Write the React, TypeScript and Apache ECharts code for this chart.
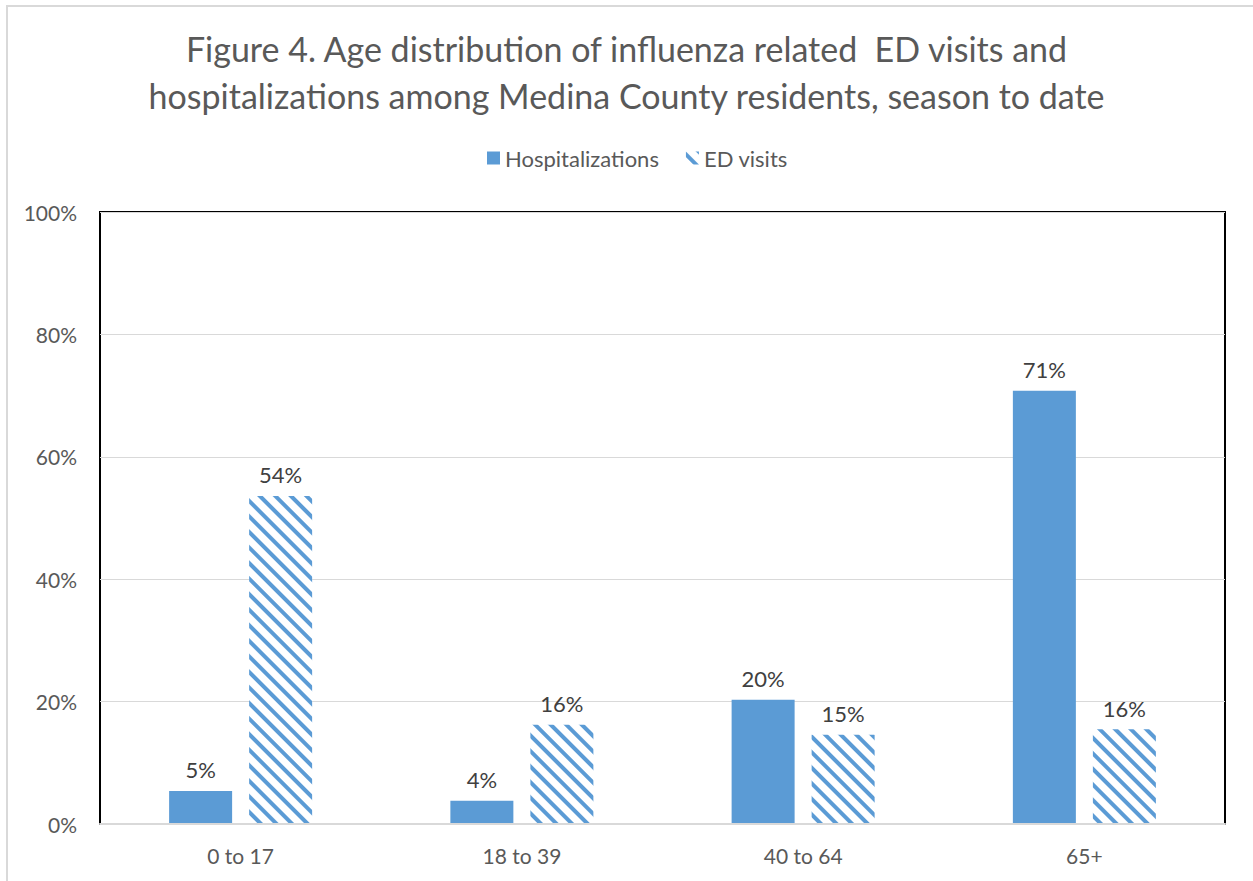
import React, { useEffect, useRef } from "react";
import * as echarts from "echarts";

const categories = ["0 to 17", "18 to 39", "40 to 64", "65+"];
const hospitalizations = [5.4, 3.8, 20.3, 70.8];
const edVisits = [53.6, 16.2, 14.6, 15.5];
const yTicks = [0, 20, 40, 60, 80, 100];

const FONT = "Lato, 'Open Sans', sans-serif";
const BLUE = "#5B9BD5";

export default function App() {
  const ref = useRef<HTMLDivElement>(null);
  useEffect(() => {
    if (!ref.current) return;
    const chart = echarts.init(ref.current, undefined, { renderer: "svg" });
    const labelCfg = {
      show: true,
      position: "top" as const,
      distance: 10,
      color: "#404040",
      fontSize: 22,
      fontFamily: FONT,
      formatter: (p: any) => Math.round(p.value) + "%",
    };
    chart.setOption({
      animation: false,
      backgroundColor: "#fff",
      textStyle: { fontFamily: FONT },
      title: {
        text: "Figure 4. Age distribution of influenza related  ED visits and\nhospitalizations among Medina County residents, season to date",
        left: "center",
        top: 20,
        textStyle: {
          fontFamily: FONT,
          fontSize: 34,
          fontWeight: "normal",
          color: "#595959",
          lineHeight: 47,
        },
      },
      legend: {
        top: 142,
        left: 482,
        itemWidth: 13,
        itemHeight: 13,
        itemGap: 27,
        icon: "rect",
        textStyle: { fontFamily: FONT, fontSize: 22, color: "#595959" },
        data: ["Hospitalizations", "ED visits"],
      },
      graphic: [
        {
          type: "rect",
          shape: { x: 7, y: 6, width: 1260, height: 900 },
          style: { fill: "none", stroke: "#D9D9D9", lineWidth: 2 },
          silent: true,
          z: -10,
        },
      ],
      grid: {
        left: 100,
        right: 28,
        top: 212,
        bottom: 57,
        show: true,
        borderColor: "#000",
        borderWidth: 2,
        backgroundColor: "transparent",
      },
      xAxis: {
        type: "category",
        data: categories,
        axisTick: { show: false },
        axisLine: { show: true, lineStyle: { color: "#D9D9D9", width: 2 } },
        axisLabel: { fontFamily: FONT, fontSize: 21, color: "#595959", margin: 21 },
        z: 10,
      },
      yAxis: {
        type: "value",
        min: 0,
        max: 100,
        interval: 20,
        axisLine: { show: false },
        axisTick: { show: false },
        splitLine: { lineStyle: { color: "#D9D9D9", width: 1 } },
        axisLabel: {
          fontFamily: FONT,
          fontSize: 21,
          color: "#595959",
          margin: 23,
          formatter: (v: number) => (yTicks.includes(v) ? v + "%" : ""),
        },
      },
      series: [
        {
          name: "Hospitalizations",
          type: "bar",
          data: hospitalizations,
          barWidth: 63,
          barGap: "27%",
          itemStyle: { color: BLUE },
          label: labelCfg,
        },
        {
          name: "ED visits",
          type: "bar",
          data: edVisits,
          barWidth: 63,
          barGap: "27%",
          itemStyle: {
            color: "#ffffff",
            decal: {
              symbol: "rect",
              symbolSize: 1,
              color: BLUE,
              backgroundColor: "#ffffff",
              dashArrayX: [1, 0],
              dashArrayY: [4, 7],
              rotation: Math.PI / 4,
            },
          },
          label: labelCfg,
        },
      ],
    });
    return () => chart.dispose();
  }, []);
  return (
    <div
      ref={ref}
      style={{ position: "absolute", left: 0, top: 0, width: 1253, height: 881 }}
    />
  );
}
